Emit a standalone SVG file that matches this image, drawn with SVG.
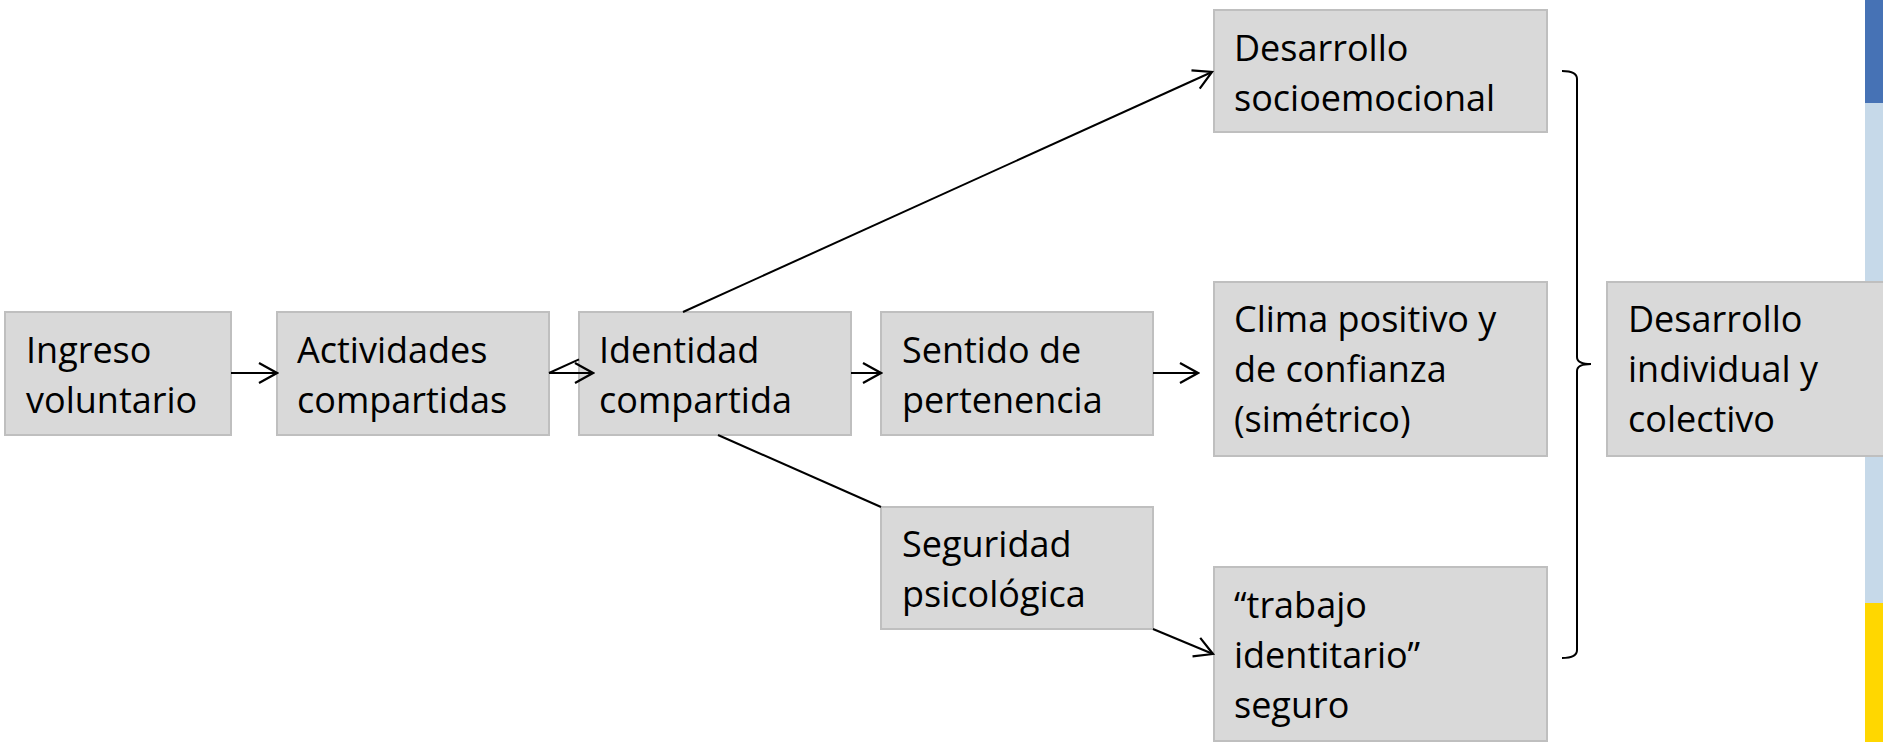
<svg xmlns="http://www.w3.org/2000/svg" width="1883" height="742" viewBox="0 0 1883 742">
<style>
.box{fill:#D9D9D9;stroke:#BFBFBF;stroke-width:2}
.t{font-family:"Open Sans","Noto Sans","Liberation Sans",sans-serif;font-size:36px;fill:#000}
.c{stroke:#000;stroke-width:2;fill:none}
.ar{marker-end:url(#ah)}
</style>
<defs>
<marker id="ah" markerUnits="userSpaceOnUse" viewBox="0 0 22 24" markerWidth="22" markerHeight="24" refX="20" refY="12" orient="auto">
<path d="M2,2 L20,12 L2,22" fill="none" stroke="#000" stroke-width="2.2"/>
</marker>
</defs>
<rect width="1883" height="742" fill="#fff"/>
<g id="strip">
<rect x="1865" y="0" width="18" height="103" fill="#4672B5"/>
<rect x="1865" y="103" width="18" height="500" fill="#C6D9E9"/>
<rect x="1865" y="603" width="18" height="139" fill="#FFD700"/>
</g>
<g id="n1"><rect class="box" x="5" y="312" width="226" height="123"/><text class="t" x="26" y="363">Ingreso</text><text class="t" x="26" y="413">voluntario</text></g>
<g id="n2"><rect class="box" x="277" y="312" width="272" height="123"/><text class="t" x="297" y="363">Actividades</text><text class="t" x="297" y="413">compartidas</text></g>
<g id="n3"><rect class="box" x="579" y="312" width="272" height="123"/><text class="t" x="599" y="363">Identidad</text><text class="t" x="599" y="413">compartida</text></g>
<g id="n4"><rect class="box" x="881" y="312" width="272" height="123"/><text class="t" x="902" y="363">Sentido de</text><text class="t" x="902" y="413">pertenencia</text></g>
<g id="n5"><rect class="box" x="881" y="507" width="272" height="122"/><text class="t" x="902" y="557">Seguridad</text><text class="t" x="902" y="607">psicológica</text></g>
<g id="n6"><rect class="box" x="1214" y="10" width="333" height="122"/><text class="t" x="1234" y="61">Desarrollo</text><text class="t" x="1234" y="111">socioemocional</text></g>
<g id="n7"><rect class="box" x="1214" y="282" width="333" height="174"/><text class="t" x="1234" y="332">Clima positivo y</text><text class="t" x="1234" y="382">de confianza</text><text class="t" x="1234" y="432">(simétrico)</text></g>
<g id="n8"><rect class="box" x="1214" y="567" width="333" height="174"/><text class="t" x="1234" y="618">“trabajo</text><text class="t" x="1234" y="668">identitario”</text><text class="t" x="1234" y="718">seguro</text></g>
<g id="n9"><rect class="box" x="1607" y="282" width="290" height="174"/><text class="t" x="1628" y="332">Desarrollo</text><text class="t" x="1628" y="382">individual y</text><text class="t" x="1628" y="432">colectivo</text></g>
<g id="connectors">
<line class="c ar" x1="231" y1="373" x2="277" y2="373"/>
<line class="c ar" x1="549" y1="373" x2="593" y2="373"/>
<line class="c ar" x1="851" y1="373" x2="881" y2="373"/>
<line class="c ar" x1="1153" y1="373" x2="1198" y2="373"/>
<line class="c" x1="549" y1="373" x2="579" y2="359.4"/>
<line class="c ar" x1="683" y1="312" x2="1212" y2="72"/>
<line class="c" x1="718" y1="435" x2="881" y2="507"/>
<line class="c ar" x1="1153" y1="629" x2="1213" y2="654"/>
<path class="c" stroke-width="2.5" d="M1562,71 Q1577,71 1577,79 V357 Q1577,364 1591,364 Q1577,364 1577,371 V650 Q1577,658 1562,658"/>
</g>
</svg>
